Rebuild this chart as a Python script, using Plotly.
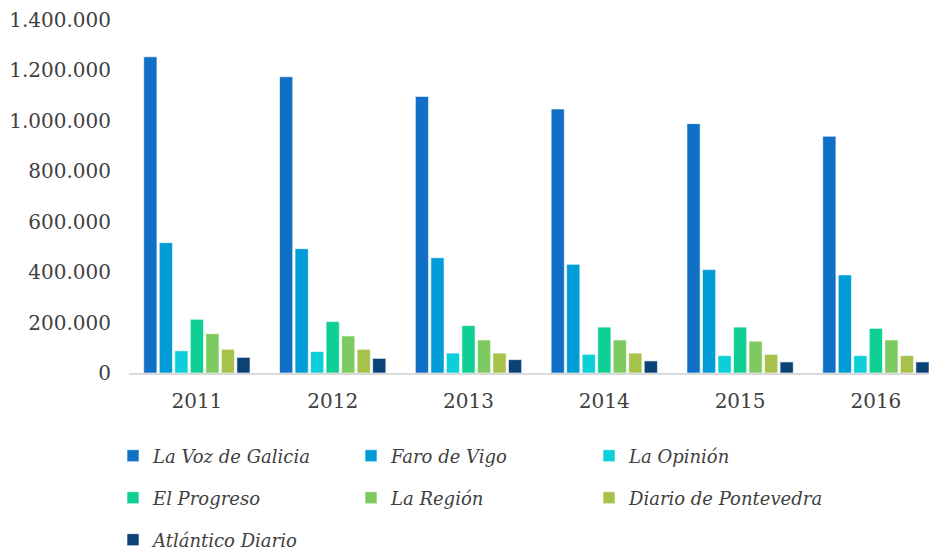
import plotly.graph_objects as go

years = ['2011', '2012', '2013', '2014', '2015', '2016']

la_voz_de_galicia = [1254000, 1175000, 1097000, 1047000, 989000, 939000]
faro_de_vigo = [517000, 493000, 457000, 431000, 410000, 389000]
la_opinion = [88000, 85000, 79000, 74000, 69000, 69000]
el_progreso = [213000, 204000, 188000, 182000, 182000, 177000]
la_region = [156000, 147000, 131000, 131000, 126000, 131000]
diario_de_pontevedra = [94000, 94000, 79000, 79000, 74000, 69000]
atlantico_diario = [62000, 58000, 53000, 48000, 44000, 44000]

series = [
    ('La Voz de Galicia', la_voz_de_galicia, '#0F70C5', 'legend'),
    ('Faro de Vigo', faro_de_vigo, '#009CD7', 'legend'),
    ('La Opinión', la_opinion, '#0DCFD9', 'legend'),
    ('El Progreso', el_progreso, '#0FCF95', 'legend2'),
    ('La Región', la_region, '#7DCA60', 'legend2'),
    ('Diario de Pontevedra', diario_de_pontevedra, '#A6C24A', 'legend2'),
    ('Atlántico Diario', atlantico_diario, '#0B4377', 'legend3'),
]

fig = go.Figure()
for name, values, color, leg in series:
    fig.add_trace(go.Bar(
        name='<i>' + name + '</i>',
        x=years,
        y=values,
        marker_color=color,
        marker_line=dict(color='rgba(255,255,255,0.6)', width=1),
        legend=leg,
    ))

# the page puts the figure 8px in from the top-left corner, so sizes are 8px short
W, H = 929, 544

legend_font = dict(family='DejaVu Serif', size=18, color='#404040')
legend_style = dict(
    orientation='h',
    xref='container',
    yref='container',
    x=105 / W,
    xanchor='left',
    yanchor='middle',
    entrywidth=193,
    entrywidthmode='pixels',
    font=legend_font,
    bgcolor='rgba(0,0,0,0)',
    traceorder='normal',
)
tick_font = dict(family='DejaVu Serif', size=20, color='#404040')

fig.update_layout(
    width=W,
    height=H,
    margin=dict(l=121, r=0, t=12, b=179),
    paper_bgcolor='white',
    plot_bgcolor='white',
    separators=',.',
    barmode='group',
    bargap=0.2,
    bargroupgap=0.15,
    font=dict(family='DejaVu Serif', size=20, color='#404040'),
    showlegend=True,
    legend=dict(legend_style, y=1 - 448 / H),
    legend2=dict(legend_style, y=1 - 490 / H),
    legend3=dict(legend_style, y=1 - 532 / H),
    xaxis=dict(
        type='category',
        range=[-0.5, 5.45],
        automargin=False,
        showline=True,
        linecolor='#D9D9D9',
        linewidth=1.5,
        showgrid=False,
        ticks='outside',
        ticklen=9,
        tickcolor='rgba(0,0,0,0)',
        tickfont=tick_font,
    ),
    yaxis=dict(
        range=[0, 1400000],
        dtick=200000,
        tickformat=',d',
        automargin=False,
        showgrid=False,
        zeroline=False,
        showline=False,
        ticks='outside',
        ticklen=13,
        tickcolor='rgba(0,0,0,0)',
        tickfont=tick_font,
    ),
)

fig.write_html("out.html")
